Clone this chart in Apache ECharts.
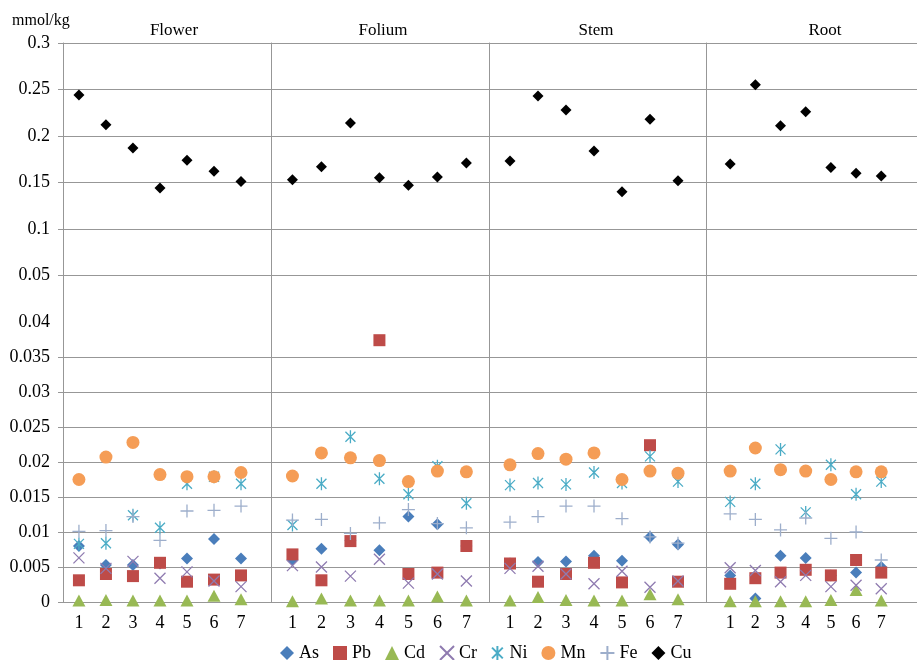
<!DOCTYPE html>
<html>
<head>
<meta charset="utf-8">
<script src="https://cdn.jsdelivr.net/npm/echarts@6/dist/echarts.min.js"></script>
<style>
  html, body { margin: 0; padding: 0; background: #fff; }
  #chart { width: 917px; height: 660px; }
</style>
</head>
<body>
<div id="chart"></div>
<script>
// Plant parts (one panel each) and sampling sites along the x axis
const parts = ['Flower', 'Folium', 'Stem', 'Root'];
const sites = ['1', '2', '3', '4', '5', '6', '7'];
const elements = ['As', 'Pb', 'Cd', 'Cr', 'Ni', 'Mn', 'Fe', 'Cu'];

// Contents in mmol/kg; each row is one plant part (Flower, Folium, Stem, Root), sites 1-7
const As = [
  [0.0080, 0.0053, 0.0053, 0.0055, 0.0062, 0.0090, 0.0062],
  [0.0060, 0.0076, 0.0088, 0.0074, 0.0122, 0.0111, 0.0080],
  [0.0055, 0.0057, 0.0058, 0.0066, 0.0059, 0.0093, 0.0082],
  [0.0038, 0.0005, 0.0066, 0.0063, 0.0038, 0.0042, 0.0050]
];
const Pb = [
  [0.0031, 0.0040, 0.0037, 0.0056, 0.0029, 0.0032, 0.0038],
  [0.0068, 0.0031, 0.0087, 0.0374, 0.0040, 0.0042, 0.0080],
  [0.0055, 0.0029, 0.0040, 0.0056, 0.0028, 0.0224, 0.0029],
  [0.0026, 0.0034, 0.0042, 0.0046, 0.0038, 0.0060, 0.0042]
];
const Cd = [
  [0.0002, 0.0003, 0.0002, 0.0002, 0.0002, 0.0009, 0.0004],
  [0.0001, 0.0005, 0.0002, 0.0002, 0.0002, 0.0008, 0.0002],
  [0.0002, 0.0007, 0.0003, 0.0002, 0.0002, 0.0011, 0.0004],
  [0.0001, 0.0001, 0.0001, 0.0001, 0.0003, 0.0017, 0.0002]
];
const Cr = [
  [0.0063, 0.0048, 0.0058, 0.0034, 0.0043, 0.0030, 0.0022],
  [0.0052, 0.0050, 0.0037, 0.0061, 0.0027, 0.0040, 0.0030],
  [0.0048, 0.0051, 0.0040, 0.0026, 0.0044, 0.0021, 0.0030],
  [0.0049, 0.0045, 0.0029, 0.0038, 0.0022, 0.0024, 0.0019]
];
const Ni = [
  [0.0083, 0.0084, 0.0124, 0.0106, 0.0169, 0.0179, 0.0169],
  [0.0110, 0.0169, 0.0236, 0.0176, 0.0154, 0.0194, 0.0141],
  [0.0167, 0.0170, 0.0168, 0.0185, 0.0170, 0.0208, 0.0172],
  [0.0143, 0.0169, 0.0218, 0.0128, 0.0196, 0.0154, 0.0172]
];
const Mn = [
  [0.0175, 0.0207, 0.0228, 0.0182, 0.0179, 0.0179, 0.0185],
  [0.0180, 0.0213, 0.0206, 0.0202, 0.0172, 0.0187, 0.0186],
  [0.0196, 0.0212, 0.0204, 0.0213, 0.0175, 0.0187, 0.0184],
  [0.0187, 0.0220, 0.0189, 0.0187, 0.0175, 0.0186, 0.0186]
];
const Fe = [
  [0.0101, 0.0102, 0.0122, 0.0088, 0.0130, 0.0131, 0.0137],
  [0.0117, 0.0118, 0.0098, 0.0113, 0.0132, 0.0112, 0.0106],
  [0.0114, 0.0122, 0.0137, 0.0137, 0.0119, 0.0093, 0.0084],
  [0.0126, 0.0118, 0.0103, 0.0120, 0.0091, 0.0100, 0.0060]
];
const Cu = [
  [0.244, 0.212, 0.187, 0.144, 0.174, 0.162, 0.151],
  [0.153, 0.167, 0.214, 0.155, 0.147, 0.156, 0.171],
  [0.173, 0.243, 0.228, 0.184, 0.140, 0.218, 0.152],
  [0.170, 0.255, 0.211, 0.226, 0.166, 0.160, 0.157]
];

// Tick values of the broken y axis: fine lower band, coarse upper band
const lowerTicks = [0, 0.005, 0.01, 0.015, 0.02, 0.025, 0.03, 0.035, 0.04];
const upperTicks = [0.05, 0.1, 0.15, 0.2, 0.25, 0.3];

const valuesByElement = { As, Pb, Cd, Cr, Ni, Mn, Fe, Cu };

// ---- layout / styling ----
const FONT = '"Liberation Serif", "Times New Roman", serif';
const LINE = '#979797';
const edges = [63, 271, 489, 706, 924];           // panel borders in px
const xRanges = [[0.41, 8.11], [0.26, 7.78], [0.25, 8.0], [0.04, 8.42]];
const UPPER = { top: 43, height: 279 };
const LOWER = { top: 322, height: 280 };

const CROSS = 'path://M0,0L10,10M10,0L0,10';
const STAR = 'path://M0,1.5L10,11.5M10,1.5L0,11.5M5,0L5,13';
const PLUS = 'path://M5,0L5,10M0,5L10,5';

const markerStyle = {
  As: { symbol: 'diamond', symbolSize: 12, itemStyle: { color: '#4A7EBB', opacity: 1 } },
  Pb: { symbol: 'rect', symbolSize: 12, itemStyle: { color: '#BE4B48', opacity: 1 } },
  Cd: { symbol: 'triangle', symbolSize: [13, 12], itemStyle: { color: '#98B954', opacity: 1 } },
  Cr: { symbol: CROSS, symbolSize: 11, itemStyle: { color: 'rgba(0,0,0,0)', borderColor: '#8F7BB0', borderWidth: 1.3, opacity: 1 } },
  Ni: { symbol: STAR, symbolSize: 13, itemStyle: { color: 'rgba(0,0,0,0)', borderColor: '#4BACC6', borderWidth: 1.3, opacity: 1 } },
  Mn: { symbol: 'circle', symbolSize: 13, itemStyle: { color: '#F59D56', opacity: 1 } },
  Fe: { symbol: PLUS, symbolSize: 13, itemStyle: { color: 'rgba(0,0,0,0)', borderColor: '#9DAECB', borderWidth: 1.3, opacity: 1 } },
  Cu: { symbol: 'diamond', symbolSize: 11, itemStyle: { color: '#000', opacity: 1 } }
};

const grids = [], xAxes = [], yAxes = [];
parts.forEach((p, i) => {
  const left = edges[i], width = edges[i + 1] - edges[i];
  // upper band (index i) and lower band (index i + 4)
  grids[i] = { left, width, top: UPPER.top, height: UPPER.height };
  grids[i + 4] = { left, width, top: LOWER.top, height: LOWER.height };
  const first = i === 0;
  [0, 4].forEach(off => {
    const isLower = off === 4;
    xAxes[i + off] = {
      gridIndex: i + off, type: 'value', min: xRanges[i][0], max: xRanges[i][1],
      show: isLower,
      axisLine: { show: false }, axisTick: { show: false }, splitLine: { show: false },
      axisLabel: {
        show: isLower,
        customValues: sites.map((s, k) => k + 1),
        formatter: v => sites[Math.round(v) - 1] || '',
        fontFamily: FONT, fontSize: 18, color: '#000', margin: 12
      }
    };
    const ticks = isLower ? lowerTicks.slice(0, -1) : upperTicks;
    yAxes[i + off] = {
      gridIndex: i + off, type: 'value',
      min: 0, max: isLower ? 0.04 : 0.3, interval: isLower ? 0.005 : 0.05,
      axisLine: { show: true, lineStyle: { color: LINE, width: 1 } },
      axisTick: { show: first, inside: false, length: 5, customValues: ticks, lineStyle: { color: LINE } },
      axisLabel: {
        show: first,
        customValues: isLower ? lowerTicks : upperTicks,
        fontFamily: FONT, fontSize: 18, color: '#000', margin: 13
      },
      splitLine: { show: true, lineStyle: { color: LINE, width: 1 } }
    };
  });
});

const series = [];
elements.forEach(el => {
  const upper = el === 'Cu';
  valuesByElement[el].forEach((row, i) => {
    const idx = upper ? i : i + 4;
    series.push(Object.assign({
      name: el, type: 'scatter',
      xAxisIndex: idx, yAxisIndex: idx,
      symbolKeepAspect: true,
      data: row.map((v, k) => [k + 1, v]),
      emphasis: { disabled: true }
    }, markerStyle[el]));
  });
});

const titleCenters = [174, 383, 596, 825];
const graphic = [
  { type: 'text', x: 12, y: 21, style: { text: 'mmol/kg', font: '16px ' + FONT, fill: '#000', align: 'left', verticalAlign: 'middle' } }
].concat(parts.map((p, i) => ({
  type: 'text', x: titleCenters[i], y: 31,
  style: { text: p, font: '17px ' + FONT, fill: '#000', align: 'center', verticalAlign: 'middle' }
})));

const chart = echarts.init(document.getElementById('chart'), null, { renderer: 'canvas' });
chart.setOption({
  animation: false,
  backgroundColor: '#fff',
  grid: grids,
  xAxis: xAxes,
  yAxis: yAxes,
  series,
  graphic,
  legend: {
    data: elements,
    left: 275, top: 639,
    itemWidth: 14, itemHeight: 14, itemGap: 14,
    textStyle: { fontFamily: FONT, fontSize: 18, color: '#000' },
    selectedMode: false
  }
});
</script>
</body>
</html>
